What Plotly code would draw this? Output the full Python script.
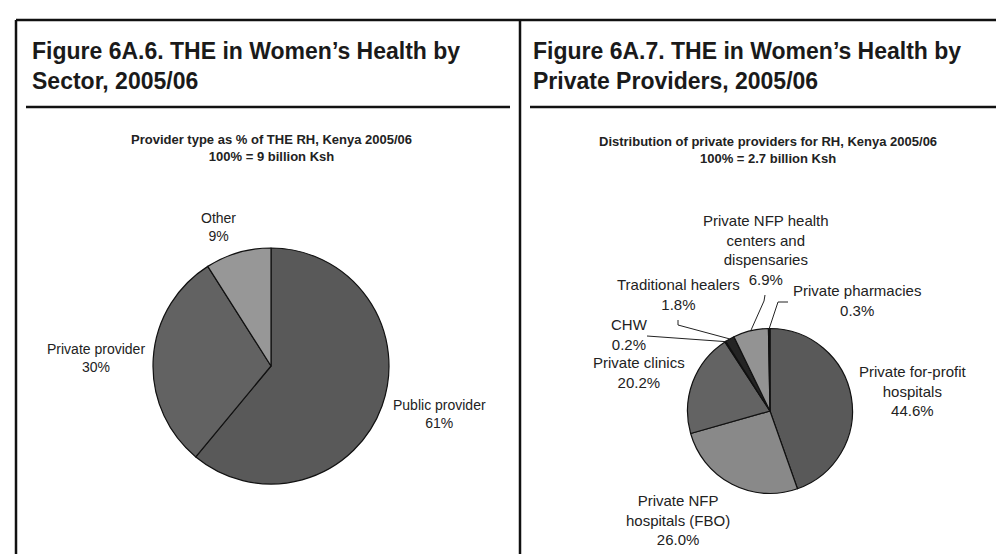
import math

import plotly.graph_objects as go

# data
sector_labels = ["Public provider", "Private provider", "Other"]
sector_values = [61, 30, 9]
sector_colors = ["#595959", "#626262", "#979797"]

private_labels = [
    "Private for-profit hospitals",
    "Private NFP hospitals (FBO)",
    "Private clinics",
    "CHW",
    "Traditional healers",
    "Private NFP health centers and dispensaries",
    "Private pharmacies",
]
private_values = [44.6, 26.0, 20.2, 0.2, 1.8, 6.9, 0.3]
private_colors = ["#595959", "#898989", "#636363", "#3a3a3a", "#242424", "#939393", "#111111"]

W, H = 1004, 554
FONT = "Liberation Sans, Arial, sans-serif"


def px(x):
    return x / W


def py(y):
    return 1 - y / H


def pie_domain(cx, cy, r):
    return dict(x=[px(cx - r), px(cx + r)], y=[py(cy + r), py(cy - r)])


def slice_edge(values, idx, cx, cy, r):
    # mid angle of slice, clockwise from 12 o'clock
    total = sum(values)
    start = sum(values[:idx])
    theta = 2 * math.pi * (start + values[idx] / 2) / total
    return cx + r * math.sin(theta), cy - r * math.cos(theta)


LEFT_C = (263, 358, 118)
RIGHT_C = (762, 403, 82.5)

fig = go.Figure()

fig.add_trace(go.Pie(
    labels=sector_labels, values=sector_values, sort=False, direction="clockwise",
    rotation=0, textinfo="none", showlegend=False,
    marker=dict(colors=sector_colors, line=dict(color="#111111", width=1.2)),
    domain=pie_domain(*LEFT_C),
))
fig.add_trace(go.Pie(
    labels=private_labels, values=private_values, sort=False, direction="clockwise",
    rotation=0, textinfo="none", showlegend=False,
    marker=dict(colors=private_colors, line=dict(color="#111111", width=1.2)),
    domain=pie_domain(*RIGHT_C),
))

shapes = []


def line(x0, y0, x1, y1, width=2.5, color="#111111"):
    shapes.append(dict(type="line", xref="paper", yref="paper",
                       x0=px(x0), y0=py(y0), x1=px(x1), y1=py(y1),
                       line=dict(color=color, width=width)))


# frame
line(8, 12, W, 12)
line(8, 12, 8, H)
line(512, 12, 512, H)
line(18, 99, 502, 99)
line(522, 99, W, 99)

# leader lines for the small slices
leaders = {
    6: [(770, 294), (780, 294)],
    5: [(756, 293), (757, 287)],
    4: [(670, 317), (670, 312)],
    3: [(639, 328)],
}
for idx, pts in leaders.items():
    ex, ey = slice_edge(private_values, idx, *RIGHT_C)
    prev = (ex, ey)
    for p in pts:
        line(prev[0], prev[1], p[0], p[1], width=1, color="#222222")
        prev = p

annotations = []


def text(x, y, s, size=14, bold=False, xanchor="center", color="#222222"):
    annotations.append(dict(
        x=px(x), y=py(y), xref="paper", yref="paper", text=f"<b>{s}</b>" if bold else s,
        showarrow=False, xanchor=xanchor, yanchor="middle", align=xanchor if xanchor != "center" else "center",
        font=dict(family=FONT, size=size, color=color),
    ))


text(22, 58, "Figure 6A.6. THE in Women\u2019s Health by<br>Sector, 2005/06", size=23, bold=True,
     xanchor="left", color="#1a1a1a")
text(523, 58, "Figure 6A.7. THE in Women\u2019s Health by<br>Private Providers, 2005/06", size=23, bold=True,
     xanchor="left", color="#1a1a1a")

text(263, 140, "Provider type as % of THE RH, Kenya 2005/06<br>100% = 9 billion Ksh", size=13, bold=True)
text(760, 142, "Distribution of private providers for RH, Kenya 2005/06<br>100% = 2.7 billion Ksh", size=13, bold=True)

# left pie labels
text(210, 219, f"Other<br>{sector_values[2]}%")
text(88, 350, f"Private provider<br>{sector_values[1]}%")
text(431, 406, f"Public provider<br>{sector_values[0]}%")

# right pie labels
text(905, 383, f"Private for-profit<br>hospitals<br>{private_values[0]:.1f}%", size=15)
text(670, 512, f"Private NFP<br>hospitals (FBO)<br>{private_values[1]:.1f}%", size=15)
text(631, 364, f"Private clinics<br>{private_values[2]:.1f}%", size=15)
text(621, 326, f"CHW<br>{private_values[3]:.1f}%", size=15)
text(670, 286, f"Traditional healers<br>{private_values[4]:.1f}%", size=15)
text(758, 242, f"Private NFP health<br>centers and<br>dispensaries<br>{private_values[5]:.1f}%", size=15)
text(849, 292, f"Private pharmacies<br>{private_values[6]:.1f}%", size=15)

fig.update_layout(
    width=W, height=H,
    margin=dict(l=0, r=0, t=0, b=0),
    paper_bgcolor="white", plot_bgcolor="white",
    shapes=shapes, annotations=annotations,
    font=dict(family=FONT),
)

fig.write_html("out.html")
